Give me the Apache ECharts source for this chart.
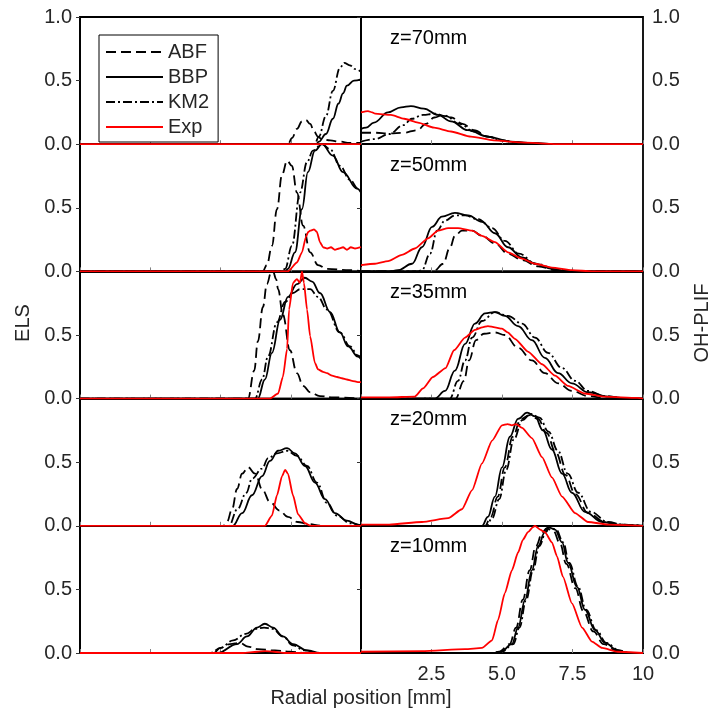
<!DOCTYPE html>
<html>
<head>
<meta charset="utf-8">
<title>ELS and OH-PLIF radial profiles</title>
<script src="https://cdn.jsdelivr.net/npm/echarts@6/dist/echarts.min.js"></script>
<style>
  html, body { margin: 0; padding: 0; background: #fff; }
  #chart { width: 713px; height: 717px; }
</style>
</head>
<body>
<div id="chart"></div>
<script>
// Heights above the burner, one row of panels each (top to bottom)
const heights = ['z=70mm', 'z=50mm', 'z=35mm', 'z=20mm', 'z=10mm'];
const models = ['ABF', 'BBP', 'KM2', 'Exp'];
const yTicks = [0, 0.5, 1.0];
const xTicks = [2.5, 5.0, 7.5, 10];

// ---- ELS profiles (left column), [radial position mm, signal] ----
const elsAbf70 = [[0,0],[7.4,0],[7.55,0.05],[7.72,0.12],[7.9,0.18],[8.04,0.19],[8.19,0.16],[8.33,0.1],[8.47,0.06],[8.6,0.04],[8.9,0.03],[9.25,0.02],[9.6,0.01],[10,0.01]];
const elsBbp70 = [[0,0],[8.4,0],[8.5,0.02],[8.75,0.08],[9.0,0.2],[9.2,0.32],[9.36,0.4],[9.5,0.46],[9.75,0.5],[10,0.51]];
const elsKm270 = [[0,0],[8.35,0],[8.5,0.06],[8.75,0.22],[9.0,0.42],[9.25,0.6],[9.4,0.64],[9.6,0.62],[9.8,0.59],[10,0.57]];
const elsExp70 = [[0,0],[10,0]];

const elsAbf50 = [[0,0],[6.5,0],[6.65,0.05],[6.83,0.2],[7.01,0.49],[7.19,0.76],[7.37,0.87],[7.54,0.83],[7.72,0.62],[7.94,0.36],[8.19,0.15],[8.47,0.05],[8.79,0.02],[9.6,0.01],[10,0]];
const elsBbp50 = [[0,0],[7.3,0],[7.4,0.02],[7.65,0.15],[7.9,0.49],[8.11,0.78],[8.36,0.95],[8.61,1.0],[9.0,0.91],[9.36,0.78],[9.86,0.65],[10,0.62]];
const elsKm250 = [[0,0],[7.15,0],[7.3,0.02],[7.54,0.2],[7.83,0.62],[8.08,0.86],[8.29,0.95],[8.61,1.0],[8.9,0.96],[9.25,0.83],[9.61,0.72],[9.89,0.65],[10,0.63]];
const elsExp50 = [[0,0],[7.4,0],[7.72,0.07],[7.9,0.15],[8.04,0.27],[8.12,0.31],[8.19,0.32],[8.33,0.33],[8.43,0.31],[8.54,0.23],[8.65,0.19],[8.8,0.18],[8.93,0.19],[9.07,0.17],[9.22,0.18],[9.36,0.19],[9.5,0.17],[9.64,0.19],[9.79,0.18],[10,0.19]];

const elsAbf35 = [[0,0],[5.98,0],[6.2,0.22],[6.33,0.45],[6.51,0.72],[6.65,0.9],[6.8,0.99],[6.87,1.0],[6.98,0.94],[7.05,0.86],[7.22,0.66],[7.47,0.38],[7.72,0.2],[7.94,0.1],[8.19,0.05],[8.54,0.02],[9.0,0.01],[10,0]];
const elsBbp35 = [[0,0],[6.33,0],[6.58,0.15],[6.83,0.36],[7.12,0.62],[7.4,0.8],[7.72,0.9],[8.0,0.95],[8.26,0.92],[8.54,0.83],[8.9,0.68],[9.25,0.52],[9.54,0.41],[9.89,0.33],[10,0.31]];
const elsKm235 = [[0,0],[6.23,0],[6.48,0.15],[6.69,0.33],[7.01,0.6],[7.3,0.76],[7.58,0.83],[7.83,0.86],[8.19,0.86],[8.47,0.8],[8.79,0.7],[9.25,0.52],[9.61,0.41],[9.89,0.34],[10,0.32]];
const elsExp35 = [[0,0],[6.76,0],[7.05,0.04],[7.22,0.17],[7.37,0.39],[7.44,0.7],[7.58,0.91],[7.72,0.94],[7.83,0.91],[7.9,1.0],[7.97,0.91],[8.08,0.7],[8.19,0.49],[8.36,0.28],[8.47,0.23],[8.65,0.21],[8.79,0.2],[8.97,0.18],[9.15,0.17],[9.32,0.16],[9.5,0.15],[9.68,0.14],[9.89,0.13],[10,0.13]];

const elsAbf20 = [[0,0],[5.1,0],[5.23,0.03],[5.41,0.13],[5.59,0.29],[5.77,0.41],[5.98,0.46],[6.23,0.41],[6.5,0.28],[6.75,0.19],[7.1,0.12],[7.4,0.07],[7.75,0.03],[8.1,0.015],[8.6,0],[10,0]];
const elsBbp20 = [[0,0],[5.44,0],[5.77,0.1],[6.12,0.24],[6.48,0.39],[6.76,0.51],[7.05,0.59],[7.37,0.61],[7.65,0.57],[8.01,0.47],[8.36,0.34],[8.72,0.21],[9.07,0.1],[9.5,0.04],[9.89,0.01],[10,0]];
const elsKm220 = [[0,0],[5.3,0],[5.6,0.13],[5.92,0.26],[6.12,0.37],[6.48,0.45],[6.69,0.53],[7.01,0.57],[7.37,0.59],[7.72,0.55],[8.08,0.47],[8.43,0.34],[8.79,0.18],[9.15,0.08],[9.61,0.02],[10,0]];
const elsExp20 = [[0,0],[6.58,0],[6.83,0.08],[7.01,0.24],[7.19,0.39],[7.3,0.44],[7.4,0.41],[7.58,0.24],[7.76,0.09],[8.01,0.02],[8.2,0],[10,0]];

const elsAbf10 = [[0,0],[4.75,0],[5.0,0.04],[5.34,0.07],[5.69,0.08],[5.98,0.05],[6.33,0.03],[6.94,0.02],[7.47,0.01],[8.0,0],[10,0]];
const elsBbp10 = [[0,0],[4.9,0],[5.59,0.07],[5.94,0.13],[6.3,0.2],[6.58,0.23],[6.87,0.2],[7.22,0.13],[7.58,0.07],[8.08,0.02],[8.54,0],[10,0]];
const elsKm210 = [[0,0],[4.65,0],[5.0,0.04],[5.45,0.1],[5.9,0.15],[6.25,0.19],[6.55,0.2],[6.85,0.19],[7.22,0.13],[7.58,0.06],[8.0,0.02],[8.5,0],[10,0]];
const elsExp10 = [[0,0],[5.8,0],[6.3,0.01],[6.6,0.015],[6.9,0.01],[7.3,0],[10,0]];

// ---- OH-PLIF profiles (right column) ----
const ohAbf70 = [[0,0.09],[0.5,0.09],[1.0,0.085],[1.5,0.09],[2.0,0.11],[2.3,0.16],[2.6,0.21],[2.9,0.23],[3.2,0.21],[3.6,0.16],[4.0,0.11],[4.5,0.06],[5,0.03],[5.5,0.015],[6,0.005],[7,0],[10,0]];
const ohBbp70 = [[0,0.12],[0.18,0.13],[0.46,0.17],[0.96,0.25],[1.42,0.29],[1.77,0.3],[2.23,0.28],[2.73,0.23],[3.19,0.18],[3.79,0.11],[4.5,0.06],[5.3,0.02],[6.1,0.01],[7,0],[10,0]];
const ohKm270 = [[0,0.02],[0.5,0.04],[1.0,0.08],[1.5,0.15],[1.8,0.2],[2.2,0.23],[2.6,0.24],[3.0,0.22],[3.5,0.16],[4.0,0.1],[4.5,0.06],[5.0,0.03],[5.5,0.015],[6,0.005],[7,0],[10,0]];
const ohExp70 = [[0,0.25],[0.25,0.26],[0.4,0.25],[0.5,0.24],[1.06,0.23],[1.53,0.2],[2.02,0.17],[2.59,0.13],[3.19,0.1],[3.9,0.06],[4.7,0.03],[5.67,0.015],[6.5,0.005],[7,0],[10,0]];

const ohAbf50 = [[0,0],[2.5,0],[2.62,0.01],[2.91,0.06],[3.16,0.19],[3.33,0.28],[3.58,0.32],[3.94,0.32],[4.29,0.28],[4.75,0.22],[5.21,0.14],[5.71,0.09],[6.28,0.04],[6.9,0.01],[7.5,0],[10,0]];
const ohBbp50 = [[0,0],[1.0,0],[1.31,0.01],[1.81,0.06],[2.16,0.19],[2.52,0.35],[2.87,0.43],[3.33,0.46],[3.8,0.44],[4.29,0.39],[4.75,0.3],[5.21,0.19],[5.71,0.11],[6.17,0.06],[6.77,0.02],[7.3,0],[10,0]];
const ohKm250 = [[0,0],[2.0,0],[2.16,0.01],[2.45,0.14],[2.7,0.32],[2.98,0.4],[3.33,0.44],[3.69,0.44],[4.15,0.41],[4.65,0.34],[5.1,0.24],[5.6,0.14],[6.2,0.06],[6.9,0.02],[7.5,0],[10,0]];
const ohExp50 = [[0,0.05],[0.5,0.06],[0.96,0.08],[1.45,0.13],[1.91,0.18],[2.38,0.26],[2.73,0.32],[3.09,0.34],[3.44,0.34],[3.94,0.32],[4.29,0.28],[4.75,0.23],[5.21,0.15],[5.71,0.1],[6.17,0.06],[6.77,0.03],[7.48,0.01],[8.2,0],[10,0]];

const ohAbf35 = [[0,0],[3.35,0],[3.65,0.14],[3.83,0.3],[4.08,0.46],[4.36,0.51],[4.75,0.52],[5.1,0.5],[5.57,0.4],[6.06,0.3],[6.52,0.2],[6.99,0.12],[7.48,0.06],[8.05,0.02],[8.8,0],[10,0]];
const ohBbp35 = [[0,0],[2.62,0],[2.98,0.06],[3.33,0.22],[3.69,0.43],[4.04,0.59],[4.4,0.67],[4.75,0.68],[5.1,0.65],[5.57,0.57],[6.06,0.46],[6.52,0.32],[6.99,0.2],[7.48,0.12],[8.05,0.05],[8.76,0.015],[9.5,0],[10,0]];
const ohKm235 = [[0,0],[3.15,0],[3.44,0.14],[3.69,0.3],[3.94,0.48],[4.29,0.61],[4.75,0.68],[5.21,0.65],[5.71,0.59],[6.17,0.48],[6.63,0.36],[7.13,0.24],[7.59,0.14],[8.05,0.06],[8.65,0.02],[9.5,0],[10,0]];
const ohExp35 = [[0,0.01],[1.0,0.01],[1.9,0.015],[2.2,0.08],[2.55,0.17],[3.0,0.24],[3.3,0.38],[3.69,0.48],[4.04,0.54],[4.3,0.56],[4.5,0.57],[4.75,0.56],[5.0,0.55],[5.2,0.52],[5.46,0.47],[5.92,0.37],[6.42,0.27],[6.88,0.18],[7.34,0.1],[7.94,0.04],[8.65,0.015],[9.8,0.005],[10,0]];

const ohAbf20 = [[0,0],[4.4,0],[4.6,0.07],[4.85,0.23],[5.1,0.46],[5.38,0.7],[5.67,0.84],[5.98,0.87],[6.28,0.84],[6.58,0.73],[6.9,0.58],[7.25,0.4],[7.6,0.25],[8.05,0.1],[8.65,0.03],[9.2,0.01],[10,0]];
const ohBbp20 = [[0,0],[4.29,0],[4.5,0.07],[4.75,0.23],[5.0,0.46],[5.28,0.7],[5.57,0.84],[5.89,0.89],[6.17,0.86],[6.45,0.75],[6.77,0.6],[7.13,0.41],[7.48,0.26],[7.94,0.11],[8.55,0.03],[9.1,0.01],[10,0]];
const ohKm220 = [[0,0],[4.45,0],[4.65,0.06],[4.9,0.21],[5.15,0.44],[5.42,0.68],[5.72,0.83],[6.02,0.88],[6.33,0.85],[6.65,0.74],[6.98,0.59],[7.33,0.41],[7.7,0.26],[8.15,0.11],[8.75,0.03],[9.3,0.01],[10,0]];
const ohExp20 = [[0,0.01],[1.0,0.01],[2.16,0.03],[3.09,0.06],[3.58,0.13],[3.94,0.28],[4.29,0.49],[4.65,0.67],[5.0,0.79],[5.2,0.8],[5.35,0.79],[5.5,0.8],[5.71,0.77],[6.06,0.69],[6.42,0.54],[6.77,0.38],[7.13,0.23],[7.59,0.1],[8.05,0.03],[8.76,0.01],[10,0]];

const ohAbf10 = [[0,0],[4.6,0],[4.9,0.01],[5.27,0.07],[5.5,0.2],[5.74,0.42],[5.98,0.65],[6.2,0.84],[6.44,0.95],[6.58,0.98],[6.82,0.96],[7.06,0.86],[7.28,0.7],[7.6,0.51],[7.88,0.33],[8.24,0.17],[8.6,0.07],[9.05,0.02],[9.5,0],[10,0]];
const ohBbp10 = [[0,0],[4.7,0],[4.97,0.01],[5.35,0.07],[5.57,0.2],[5.82,0.42],[6.06,0.65],[6.28,0.84],[6.52,0.95],[6.63,0.99],[6.88,0.97],[7.13,0.87],[7.34,0.71],[7.66,0.52],[7.94,0.34],[8.3,0.18],[8.65,0.08],[9.1,0.02],[9.5,0],[10,0]];
const ohKm210 = [[0,0],[4.75,0],[5.0,0.01],[5.4,0.07],[5.62,0.2],[5.86,0.42],[6.1,0.65],[6.32,0.84],[6.56,0.95],[6.68,0.99],[6.92,0.97],[7.17,0.87],[7.38,0.71],[7.7,0.52],[7.98,0.34],[8.34,0.18],[8.7,0.08],[9.15,0.02],[9.55,0],[10,0]];
const ohExp10 = [[0,0.01],[2.16,0.015],[3.69,0.03],[4.29,0.04],[4.65,0.1],[4.86,0.26],[5.1,0.47],[5.35,0.65],[5.57,0.79],[5.74,0.89],[5.92,0.95],[6.1,0.99],[6.17,1.0],[6.35,0.97],[6.52,0.95],[6.77,0.87],[6.95,0.76],[7.16,0.6],[7.48,0.39],[7.84,0.2],[8.19,0.09],[8.55,0.04],[9.1,0.01],[10,0]];

// Rows in panel order; each row lists [ABF, BBP, KM2, Exp]
const elsRows = [
  [elsAbf70, elsBbp70, elsKm270, elsExp70],
  [elsAbf50, elsBbp50, elsKm250, elsExp50],
  [elsAbf35, elsBbp35, elsKm235, elsExp35],
  [elsAbf20, elsBbp20, elsKm220, elsExp20],
  [elsAbf10, elsBbp10, elsKm210, elsExp10]
];
const ohRows = [
  [ohAbf70, ohBbp70, ohKm270, ohExp70],
  [ohAbf50, ohBbp50, ohKm250, ohExp50],
  [ohAbf35, ohBbp35, ohKm235, ohExp35],
  [ohAbf20, ohBbp20, ohKm220, ohExp20],
  [ohAbf10, ohBbp10, ohKm210, ohExp10]
];

// ---- layout and styling ----
const FONT = 'Liberation Sans, Arial, Helvetica, sans-serif';
const TXT = '#262626';
const plotTop = 17, rowH = 127.2;
const colLeft = [80, 361], colW = [281, 282];

const lineStyles = {
  ABF: { color: '#000', width: 1.8, type: [10, 5] },
  BBP: { color: '#000', width: 1.8, type: 'solid' },
  KM2: { color: '#000', width: 1.8, type: [9, 3, 2, 3] },
  Exp: { color: '#ff0000', width: 1.8, type: 'solid' }
};

const grids = [], xAxes = [], yAxes = [], series = [];
for (let r = 0; r < 5; r++) {
  for (let c = 0; c < 2; c++) {
    const gi = grids.length;
    grids.push({
      left: colLeft[c], top: plotTop + r * rowH, width: colW[c], height: rowH,
      show: true, borderColor: '#000', borderWidth: 1.8, backgroundColor: 'transparent'
    });
    const bottomRight = (r === 4 && c === 1);
    xAxes.push({
      gridIndex: gi, type: 'value', min: 0, max: 10, interval: 2.5,
      axisLine: { show: true, lineStyle: { color: '#000', width: 1.8 } },
      axisTick: { show: true, inside: true, length: 4, lineStyle: { color: '#808080', width: 1 } },
      splitLine: { show: false },
      axisLabel: {
        show: bottomRight, showMinLabel: false, margin: 11,
        fontFamily: FONT, fontSize: 20, color: TXT,
        formatter: v => (v === 10 ? '10' : v.toFixed(1))
      }
    });
    yAxes.push({
      gridIndex: gi, type: 'value', min: 0, max: 1, interval: 0.5,
      position: c === 0 ? 'left' : 'right',
      axisLine: { show: true, lineStyle: { color: '#000', width: 1.8 } },
      axisTick: { show: true, inside: c === 1, length: 4, lineStyle: { color: '#333', width: 1 } },
      splitLine: { show: false },
      axisLabel: {
        show: true, showMaxLabel: r === 0, margin: c === 0 ? 8 : 9,
        fontFamily: FONT, fontSize: 20, color: TXT,
        formatter: v => v.toFixed(1)
      }
    });
    const rowData = c === 0 ? elsRows[r] : ohRows[r];
    models.forEach((m, k) => {
      series.push({
        name: m, type: 'line', xAxisIndex: gi, yAxisIndex: gi,
        data: rowData[k], showSymbol: false, symbol: 'none',
        smooth: m === 'Exp' ? 0.2 : 0.4, smoothMonotone: 'x',
        clip: true, lineStyle: lineStyles[m], itemStyle: { color: lineStyles[m].color },
        z: m === 'Exp' ? 4 : 3, silent: true
      });
    });
  }
}

const graphics = [];
heights.forEach((h, r) => {
  graphics.push({
    type: 'text', left: 390, top: plotTop + r * rowH + 11,
    style: { text: h, font: '20px ' + FONT, fill: '#000' }
  });
});
graphics.push({
  type: 'text', x: 23, y: 323, rotation: Math.PI / 2,
  style: { text: 'ELS', font: '20px ' + FONT, fill: TXT, align: 'center', verticalAlign: 'middle' }
});
graphics.push({
  type: 'text', x: 702, y: 323, rotation: Math.PI / 2,
  style: { text: 'OH-PLIF', font: '20px ' + FONT, fill: TXT, align: 'center', verticalAlign: 'middle' }
});
graphics.push({
  type: 'text', x: 361, y: 698,
  style: { text: 'Radial position [mm]', font: '20px ' + FONT, fill: TXT, align: 'center', verticalAlign: 'middle' }
});

const chart = echarts.init(document.getElementById('chart'), null, { renderer: 'canvas' });
chart.setOption({
  animation: false,
  backgroundColor: '#fff',
  grid: grids,
  xAxis: xAxes,
  yAxis: yAxes,
  series: series,
  graphic: graphics,
  legend: {
    data: models, orient: 'vertical', left: 99, top: 35,
    itemWidth: 57, itemHeight: 12, itemGap: 5,
    padding: [7, 9, 5, 6],
    borderColor: '#000', borderWidth: 1, backgroundColor: '#fff',
    selectedMode: false,
    // line-only keys: hide the marker drawn in the middle of each key
    itemStyle: { opacity: 0 },
    textStyle: { fontFamily: FONT, fontSize: 20, color: TXT, lineHeight: 20 }
  }
});
</script>
</body>
</html>
